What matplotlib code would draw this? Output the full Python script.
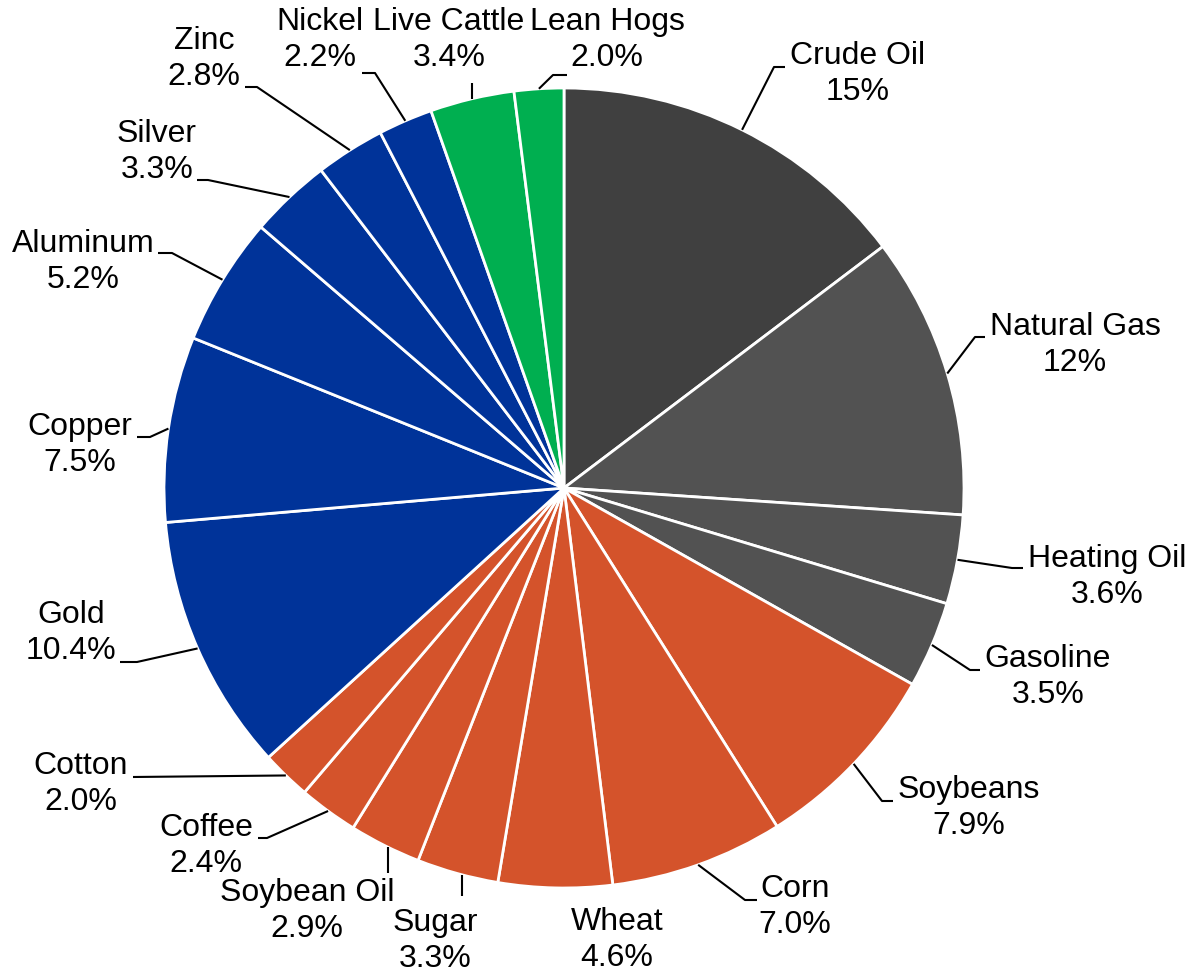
import matplotlib
matplotlib.use("Agg")
import matplotlib.pyplot as plt
import numpy as np

# ---------------- data ----------------
categories = ["Crude Oil", "Natural Gas", "Heating Oil", "Gasoline", "Soybeans", "Corn",
              "Wheat", "Sugar", "Soybean Oil", "Coffee", "Cotton", "Gold", "Copper",
              "Aluminum", "Silver", "Zinc", "Nickel", "Live Cattle", "Lean Hogs"]
values = [14.7, 11.4, 3.6, 3.5, 7.9, 7.0, 4.6, 3.3, 2.9, 2.4, 2.0, 10.4, 7.5,
          5.2, 3.3, 2.8, 2.2, 3.4, 2.0]
value_labels = ["15%", "12%", "3.6%", "3.5%", "7.9%", "7.0%", "4.6%", "3.3%", "2.9%",
                "2.4%", "2.0%", "10.4%", "7.5%", "5.2%", "3.3%", "2.8%", "2.2%",
                "3.4%", "2.0%"]
groups = ["crude", "energy", "energy", "energy", "agri", "agri", "agri", "agri", "agri",
          "agri", "agri", "metal", "metal", "metal", "metal", "metal", "metal",
          "live", "live"]

# ---------------- style / layout ----------------
group_colors = {"crude": "#404040", "energy": "#525252", "agri": "#D4532B",
                "metal": "#003399", "live": "#00AF50"}
FIG_W, FIG_H = 1190, 974
CX, CY, R = 564, 488, 400          # pie centre / radius in pixels (top-left origin)

# text block centre (px), leader type, elbow (px), end (px)
layout = {
    "Crude Oil":   ((858, 74),  "h", (774, 67),  (785, 67)),
    "Natural Gas": ((1075, 345), "h", (975, 337), (985, 337)),
    "Heating Oil": ((1107, 577), "h", (1012, 568), (1023, 568)),
    "Gasoline":    ((1048, 677), "h", (970, 670), (980, 670)),
    "Soybeans":    ((969, 808), "h", (882, 801), (893, 801)),
    "Corn":        ((795, 907), "h", (745, 900), (757, 900)),
    "Wheat":       ((617, 940), None, None, None),
    "Sugar":       ((435, 941), "v", None, (462, 896)),
    "Soybean Oil": ((307, 911), "v", None, (388, 873)),
    "Coffee":      ((206, 846), "h", (267, 838), (258, 838)),
    "Cotton":      ((81, 784),  "h", (133, 777), (133, 777)),
    "Gold":        ((71, 633),  "h", (137, 662), (120, 662)),
    "Copper":      ((80, 445),  "h", (150, 437), (137, 437)),
    "Aluminum":    ((83, 262),  "h", (172, 253), (158, 253)),
    "Silver":      ((157, 152), "h", (208, 180), (197, 180)),
    "Zinc":        ((204, 59),  "h", (257, 87),  (245, 87)),
    "Nickel":      ((320, 40),  "h", (375, 73),  (362, 73)),
    "Live Cattle": ((449, 40),  "v", None, (472, 83)),
    "Lean Hogs":   ((607, 40),  "h", (553, 75),  (567, 75)),
}


def px(p):
    return (p[0], FIG_H - p[1])


plt.rcParams["font.family"] = ["Liberation Sans", "DejaVu Sans"]

fig = plt.figure(figsize=(FIG_W / 100, FIG_H / 100), dpi=100)
ax = fig.add_axes([0, 0, 1, 1])

colors = [group_colors[g] for g in groups]
cx, cy = px((CX, CY))
wedges, _ = ax.pie(values, colors=colors, startangle=90, counterclock=False,
                   center=(cx, cy), radius=R,
                   wedgeprops=dict(edgecolor="white", linewidth=2.0))

ax.set_xlim(0, FIG_W)
ax.set_ylim(0, FIG_H)
ax.set_aspect("equal")
ax.axis("off")

for w, name, lab in zip(wedges, categories, value_labels):
    (tc, kind, elbow, end) = layout[name]
    tx, ty = px(tc)
    ax.text(tx, ty, f"{name}\n{lab}", ha="center", va="center",
            multialignment="center", fontsize=23, linespacing=1.27, color="black")
    if kind is None:
        continue
    ex, ey = px(end)
    if kind == "v":
        dx = (ex - cx) / R
        sign = 1 if ey > cy else -1
        sx, sy = ex, cy + sign * R * np.sqrt(max(0.0, 1 - dx * dx))
        xs, ys = [sx, ex], [sy, ey]
    else:
        mid = np.deg2rad((w.theta1 + w.theta2) / 2)
        sx, sy = cx + R * np.cos(mid), cy + R * np.sin(mid)
        bx, by = px(elbow)
        xs, ys = [sx, bx, ex], [sy, by, ey]
    ax.plot(xs, ys, color="black", linewidth=1.5, solid_capstyle="butt")

fig.savefig("out.png", dpi=100)
